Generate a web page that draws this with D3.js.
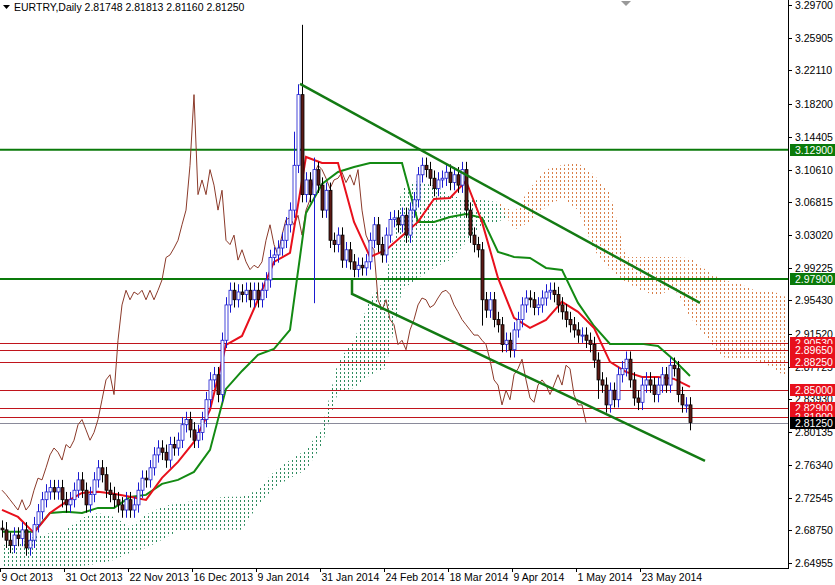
<!DOCTYPE html>
<html>
<head>
<meta charset="UTF-8">
<script src="https://d3js.org/d3.v7.min.js"></script>
<style>
  body { margin: 0; background: #fff; }
  text { font-family: "Liberation Sans", sans-serif; font-size: 10.5px; }
</style>
</head>
<body>
<svg id="chart" width="835" height="585"></svg>
<script>
// daily closes, 9 Oct 2013 .. early Jun 2014
const closes = [2.688,2.676,2.670,2.682,2.678,2.688,2.667,2.676,2.694,2.709,
  2.723,2.732,2.737,2.732,2.737,2.723,2.717,2.723,2.734,2.746,
  2.734,2.717,2.729,2.746,2.760,2.752,2.734,2.729,2.723,2.717,
  2.711,2.723,2.711,2.717,2.734,2.748,2.746,2.760,2.775,2.783,
  2.778,2.769,2.787,2.783,2.792,2.810,2.816,2.804,2.792,2.801,
  2.816,2.839,2.862,2.868,2.845,2.908,2.949,2.966,2.955,2.964,
  2.961,2.966,2.955,2.966,2.955,2.966,2.978,3.004,3.007,3.015,
  3.024,3.042,3.059,3.111,3.193,3.077,3.094,3.077,3.106,3.088,
  3.059,3.082,3.024,3.019,3.030,3.001,3.013,2.999,2.990,2.995,
  2.992,2.999,3.024,3.042,3.019,3.007,3.030,3.048,3.050,3.042,
  3.053,3.030,3.059,3.071,3.100,3.111,3.106,3.096,3.084,3.094,
  3.096,3.103,3.091,3.100,3.088,3.106,3.059,3.030,3.019,3.013,
  2.955,2.943,2.955,2.932,2.926,2.903,2.908,2.897,2.920,2.932,
  2.949,2.957,2.955,2.946,2.949,2.957,2.964,2.966,2.961,2.949,
  2.941,2.932,2.926,2.920,2.914,2.914,2.908,2.903,2.885,2.862,
  2.856,2.833,2.850,2.839,2.868,2.875,2.886,2.862,2.841,2.836,
  2.856,2.862,2.856,2.845,2.856,2.868,2.856,2.879,2.875,2.845,
  2.833,2.833,2.8125];
const firstOpen = 2.690;
// notable wicks (bar index -> price)
const wickHigh = { 74: 3.205, 75: 3.274, 73: 3.150, 78: 3.120 };
const wickLow = { 78: 2.951, 120: 2.925, 149: 2.840 };
const wick = 0.009;

// Ichimoku lines sampled every 4 bars
const tenkan = [2.7112,2.703,2.6845,2.7077,2.7205,2.7309,2.7321,2.7298,2.7263,2.7228,
  2.7483,2.7669,2.7901,2.8272,2.9026,2.913,2.955,2.9989,3.0093,3.1207,
  3.1137,3.1137,3.0453,3.0047,3.0128,3.0290,3.0453,3.072,3.0731,3.0928,
  3.0453,2.9803,2.9339,2.9223,2.9316,2.9525,2.9409,2.9223,2.883,2.8713,
  2.8655,2.8655,2.8632,2.8539];
const kijun = [2.6857,2.6857,2.6857,2.7077,2.7089,2.7077,2.7135,2.7135,2.7263,2.7286,
  2.7414,2.746,2.7553,2.7808,2.8516,2.8724,2.891,2.898,2.92,3.0557,
  3.0894,3.1033,3.1091,3.1137,3.1137,3.1137,3.0453,3.0453,3.051,3.0546,
  3.05,3.0105,3.0047,3.0035,2.9919,2.9896,2.9513,2.9246,2.9038,2.9038,
  2.9038,2.9014,2.885,2.8666];
const spanA = [2.6706,2.6706,2.680,2.6845,2.688,2.702,2.7077,2.703,2.6915,2.7054,
  2.7147,2.7193,2.7216,2.724,2.7263,2.7263,2.7344,2.7553,2.7692,2.7808,
  2.8063,2.883,2.9084,2.955,2.9803,3.0859,3.0928,3.087,3.0766,3.0708,
  3.0708,3.0685,3.036,3.0453,3.0627,3.0731,3.0592,3.0128,2.9896,2.9757,
  2.9652,2.9594,2.9687,2.935,2.912,2.8887,2.885,2.885,2.8782,2.8655];
const spanB = [2.6358,2.6358,2.6393,2.6440,2.6451,2.6462,2.6486,2.653,2.6613,2.6671,
  2.6764,2.6868,2.688,2.688,2.688,2.688,2.717,2.7367,2.7483,2.7576,
  2.7866,2.848,2.8527,2.8678,2.876,2.9664,2.9803,2.992,3.0012,3.021,
  3.0418,3.0453,3.0557,3.0847,3.106,3.1114,3.1137,3.0998,3.079,3.0047,
  3.0047,3.0047,3.0047,3.0035,2.9896,2.978,2.9745,2.9664,2.9664,2.9583];

const greenLevels = [3.129, 2.979];
const redLevels = [2.9053, 2.8965, 2.8825, 2.850, 2.829, 2.819];
const bidLevel = 2.8125;
// channel lines: [barIndex, price]
const upperLine = [[74.5, 3.2054], [174.5, 2.9513]];
const lowerLine = [[87.5, 2.979], [87.5, 2.9618], [175.75, 2.768]];

const priceTicks = [3.29700,3.25905,3.22110,3.18200,3.14405,3.10610,3.06815,3.03020,2.99225,
  2.95430,2.91520,2.87725,2.83930,2.80135,2.76340,2.72545,2.68750,2.64955];
const dateLabels = ["9 Oct 2013","31 Oct 2013","22 Nov 2013","16 Dec 2013","9 Jan 2014",
  "31 Jan 2014","24 Feb 2014","18 Mar 2014","9 Apr 2014","1 May 2014","23 May 2014"];

const W = 788, H = 568;
const svg = d3.select("#chart");
const x = d3.scaleLinear().domain([-0.5, 196.5]).range([0, W]);
const y = d3.scaleLinear().domain([2.64955, 3.297]).range([563, 5]);

const defs = svg.append("defs");
defs.append("clipPath").attr("id", "plot").append("rect").attr("width", W).attr("height", H);
[["dotG", "#2f8c60"], ["dotO", "#d9804a"]].forEach(([id, c]) => {
  const p = defs.append("pattern").attr("id", id).attr("patternUnits", "userSpaceOnUse")
    .attr("width", 4).attr("height", 4);
  p.append("rect").attr("width", 1).attr("height", 2).attr("fill", c);
});

const g = svg.append("g").attr("clip-path", "url(#plot)");

// cloud
const cloud = spanA.map((a, k) => ({ i: 4 * k, a, b: spanB[k] }));
g.append("path").datum(cloud).attr("fill", "url(#dotG)")
  .attr("d", d3.area().x(d => x(d.i)).y0(d => y(d.b)).y1(d => y(Math.max(d.a, d.b))));
g.append("path").datum(cloud).attr("fill", "url(#dotO)")
  .attr("d", d3.area().x(d => x(d.i)).y0(d => y(d.a)).y1(d => y(Math.max(d.a, d.b))));

// horizontal levels
g.selectAll(".red").data(redLevels).join("line")
  .attr("x1", 0).attr("x2", W).attr("y1", d => Math.round(y(d)) + 0.5).attr("y2", d => Math.round(y(d)) + 0.5)
  .attr("stroke", "#c0141c").attr("stroke-width", 1);
g.append("line").attr("x1", 0).attr("x2", W)
  .attr("y1", Math.round(y(bidLevel)) + 0.5).attr("y2", Math.round(y(bidLevel)) + 0.5)
  .attr("stroke", "#8a8a9a").attr("stroke-width", 1);
g.selectAll(".grn").data(greenLevels).join("line")
  .attr("x1", 0).attr("x2", W).attr("y1", d => y(d)).attr("y2", d => y(d))
  .attr("stroke", "#0a7a0a").attr("stroke-width", 2);

// chikou: close shifted back 26 bars
const chikou = closes.slice(26).map((c, i) => [i, c]);
g.append("path").datum(chikou).attr("fill", "none").attr("stroke", "#8b3a2a").attr("stroke-width", 1)
  .attr("d", d3.line().x(d => x(d[0])).y(d => y(d[1])));

// tenkan & kijun
const line4 = d3.line().x((d, k) => x(4 * k)).y(d => y(d));
g.append("path").datum(kijun).attr("fill", "none").attr("stroke", "#138a13").attr("stroke-width", 2).attr("d", line4);
g.append("path").datum(tenkan).attr("fill", "none").attr("stroke", "#e8101c").attr("stroke-width", 2).attr("d", line4);

// candles
const bars = closes.map((c, i) => {
  const o = i === 0 ? firstOpen : closes[i - 1];
  return { i, o, c, h: wickHigh[i] ?? Math.max(o, c) + wick, l: wickLow[i] ?? Math.min(o, c) - wick };
});
const cg = g.selectAll(".candle").data(bars).join("g");
cg.append("line").attr("x1", d => x(d.i) + 0.5).attr("x2", d => x(d.i) + 0.5)
  .attr("y1", d => y(d.h)).attr("y2", d => y(d.l))
  .attr("stroke", d => d.c >= d.o ? "#1a1ad0" : "#000");
cg.append("rect").attr("x", d => x(d.i) - 1).attr("width", 3)
  .attr("y", d => y(Math.max(d.o, d.c))).attr("height", d => Math.max(1, Math.abs(y(d.o) - y(d.c))))
  .attr("fill", d => d.c >= d.o ? "#fff" : "#5c1a14")
  .attr("stroke", d => d.c >= d.o ? "#1a1ad0" : "#000").attr("stroke-width", 0.8);

// channel lines
const tl = d3.line().x(d => x(d[0])).y(d => y(d[1]));
[upperLine, lowerLine].forEach(l => g.append("path").datum(l).attr("fill", "none")
  .attr("stroke", "#137a13").attr("stroke-width", 2.5).attr("d", tl));

// axes frame
svg.append("line").attr("x1", W + 0.5).attr("x2", W + 0.5).attr("y1", 0).attr("y2", H).attr("stroke", "#000");
svg.append("line").attr("x1", 0).attr("x2", W + 1).attr("y1", H + 0.5).attr("y2", H + 0.5).attr("stroke", "#000");

// price ticks
const pt = svg.selectAll(".pt").data(priceTicks).join("g").attr("transform", d => `translate(${W},${Math.round(y(d)) + 0.5})`);
pt.append("line").attr("x1", 0).attr("x2", 4).attr("stroke", "#000");
pt.append("text").attr("x", 7).attr("dy", "0.35em").attr("fill", "#000").text(d => d.toFixed(5));

// level labels
const lab = (v, bg) => {
  const yy = Math.round(y(v));
  svg.append("rect").attr("x", W + 2).attr("y", yy - 6).attr("width", 45).attr("height", 12).attr("fill", bg);
  svg.append("text").attr("x", W + 7).attr("y", yy).attr("dy", "0.35em").attr("fill", "#fff").text(v.toFixed(5));
};
greenLevels.forEach(v => lab(v, "#0a7a0a"));
redLevels.forEach(v => lab(v, "#e8101c"));
lab(bidLevel, "#000");

// date ticks
const dt = svg.selectAll(".dt").data(dateLabels).join("g").attr("transform", (d, k) => `translate(${Math.round(x(16 * k)) - 1.5},${H})`);
dt.append("line").attr("y1", 0).attr("y2", 4).attr("stroke", "#000");
dt.append("text").attr("x", 1).attr("y", 13).attr("fill", "#000").text(d => d);

// header
svg.append("path").attr("d", "M3,5 L10,5 L6.5,9 Z").attr("fill", "#000");
svg.append("text").attr("x", 14).attr("y", 11).attr("fill", "#000").text("EURTRY,Daily  2.81748 2.81813 2.81160 2.81250");
svg.append("path").attr("d", "M621,1 L631,1 L626,6 Z").attr("fill", "#999");
</script>
</body>
</html>
